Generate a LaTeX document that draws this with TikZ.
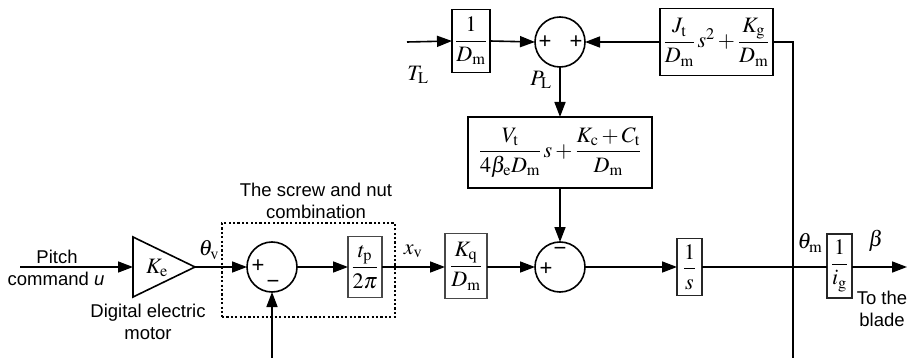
\documentclass[tikz,border=0pt]{standalone}
\usepackage{amsmath}
\usepackage{mathptmx}
\usepackage[no-math]{fontspec}
\setmainfont{Liberation Sans}
\usetikzlibrary{arrows.meta,shapes.geometric}
\begin{document}
\begin{tikzpicture}[x=1pt,y=-1pt,
  every node/.style={inner sep=0pt, outer sep=0pt},
  line/.style={line width=1.6pt},
  arr/.style={line width=1.6pt,-{Triangle[length=15pt,width=11pt]}},
  sbox/.style={draw=black!72, line width=1.4pt, fill=white, font=\fontsize{22}{26}\selectfont},
  bbox/.style={draw=black, line width=1.8pt, fill=white, font=\fontsize{22}{26}\selectfont},
  sumc/.style={circle, draw, line width=1.6pt, minimum size=50pt},
  lbl/.style={font=\fontsize{18.5}{21.5}\selectfont, align=center},
  mth/.style={font=\fontsize{22}{26}\selectfont},
  sgn/.style={font=\fontsize{22}{22}\selectfont}]
\useasboundingbox (0,0) rectangle (907,358);

% blocks
\node[isosceles triangle, isosceles triangle stretches, draw, line width=1.6pt,
      minimum width=60pt, minimum height=62pt, anchor=apex] (tri) at (195,267) {};
\node[mth] (ke) at (157,268) {$K_\mathrm{e}$};

\node[draw, line width=1.5pt, dash pattern=on 2.2pt off 2.2pt,
      minimum width=173pt, minimum height=94pt] (grp) at (308.5,270) {};

\node[sumc] (s1) at (272,267) {};
\node[sumc] (s2) at (560,267) {};
\node[sumc] (s3) at (560,42) {};

\node[sbox, minimum width=34pt, minimum height=61pt] (btp) at (365,267) {$\dfrac{t_\mathrm{p}}{2\pi}$};
\node[sbox, minimum width=42pt, minimum height=65pt] (bkq) at (466,266) {$\dfrac{K_\mathrm{q}}{D_\mathrm{m}}$};
\node[bbox, draw=black!85, minimum width=25pt, minimum height=57pt] (bs) at (689.5,267) {$\dfrac{1}{s}$};
\node[bbox, draw=black!85, minimum width=25pt, minimum height=64pt] (bi) at (839.5,266) {$\dfrac{1}{i_\mathrm{g}}$};
\node[bbox, minimum width=38pt, minimum height=63pt] (bdm) at (471,41) {$\dfrac{1}{D_\mathrm{m}}$};
\node[bbox, minimum width=184pt, minimum height=71pt] (bbig) at (560,152.5)
  {$\dfrac{V_\mathrm{t}}{4\beta_\mathrm{e}D_\mathrm{m}}\,s+\dfrac{K_\mathrm{c}+C_\mathrm{t}}{D_\mathrm{m}}$};
\node[bbox, minimum width=113pt, minimum height=67pt] (bj) at (716.5,42)
  {$\dfrac{J_\mathrm{t}}{D_\mathrm{m}}\,s^2+\dfrac{K_\mathrm{g}}{D_\mathrm{m}}$};

% signs
\node[sgn] (p1) at (258,266) {+};
\node[sgn] (m1) at (273,284) {−};
\node[sgn] (p2) at (546,269) {+};
\node[sgn] (m2) at (560,251) {−};
\node[sgn] (p3) at (545,42) {+};
\node[sgn] (p4) at (576,42) {+};

% coordinates
\coordinate (in) at (20,267);
\coordinate (out) at (907,267);
\coordinate (jn) at (793,267);
\coordinate (jt) at (793,42);
\coordinate (jb) at (793,358);
\coordinate (fb) at (272,358);
\coordinate (tl) at (407,42);

% connectors
\draw[arr] (in) -- (tri.west);
\draw[arr] (tri.apex) -- (s1.west);
\draw[arr] (s1.east) -- (btp.west);
\draw[arr] (btp.east) -- (bkq.west |- btp.east);
\draw[arr] (bkq.east |- s2.west) -- (s2.west);
\draw[arr] (s2.east) -- (bs.west);
\draw[line] (bs.east) -- (jn) -- (bi.west |- jn);
\draw[arr] (bi.east |- jn) -- (out);
\draw[line] (jb) -- (jn) -- (jt) -- (bj.east);
\draw[arr] (bj.west) -- (s3.east);
\draw[arr] (tl) -- (bdm.west);
\draw[arr] (bdm.east) -- (s3.west);
\draw[arr] (s3.south) -- (bbig.north);
\draw[arr] (bbig.south) -- (s2.north);
\draw[arr] (fb) -- (s1.south);

% labels
\node[lbl] (pitch) at (57,257) {Pitch};
\node[lbl] (cmd) at (56,279) {command \textit{u}};
\node[lbl] (motor) at (148,322) {Digital electric\\motor};
\node[lbl] (screw) at (316,201) {The screw and nut\\combination};
\node[lbl] (blade) at (882,309) {To the\\blade};
\node[mth] (thv) at (209,250) {$\theta_\mathrm{v}$};
\node[mth] (xv) at (413,251) {$x_\mathrm{v}$};
\node[mth] (thm) at (810,243) {$\theta_\mathrm{m}$};
\node[mth] (beta) at (876,241) {$\beta$};
\node[mth] (tlab) at (418,75) {$T_\mathrm{L}$};
\node[mth] (plab) at (541,80) {$P_\mathrm{L}$};
\end{tikzpicture}
\end{document}
